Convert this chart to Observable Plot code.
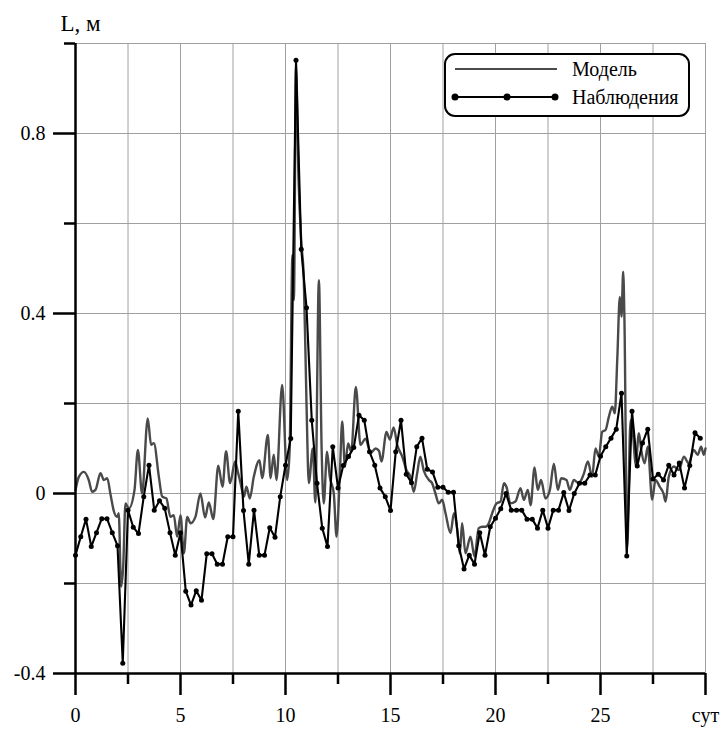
<!DOCTYPE html>
<html><head><meta charset="utf-8">
<script src="https://cdn.jsdelivr.net/npm/d3@7"></script>
<script src="https://cdn.jsdelivr.net/npm/@observablehq/plot@0.6"></script>
<style>
body{margin:0;background:#fff;}
#chart{width:725px;height:729px;}
#chart svg, #chart svg text { font-family: "Liberation Serif", "DejaVu Serif", serif !important; }
</style>
</head><body><div id="chart"></div>
<script>
// Model series (days, metres)
const modelX = [0.0,0.16,0.4,0.63,0.79,0.95,1.19,1.35,1.51,1.67,1.83,1.98,2.06,2.17,2.27,2.38,2.54,2.81,2.97,3.17,3.44,3.6,3.73,3.97,4.13,4.33,4.52,4.68,4.84,5.0,5.16,5.32,5.48,5.71,5.95,6.17,6.35,6.56,6.8,7.0,7.17,7.36,7.6,7.73,7.86,8.02,8.14,8.3,8.49,8.76,8.89,9.16,9.29,9.44,9.57,9.84,10.08,10.2,10.33,10.4,10.5,10.62,10.75,10.87,11.0,11.11,11.3,11.42,11.59,11.72,11.82,11.98,12.11,12.3,12.43,12.59,12.7,12.83,12.98,13.13,13.35,13.57,13.81,14.05,14.29,14.45,14.57,14.81,14.97,15.15,15.32,15.56,15.76,15.95,16.11,16.27,16.42,16.59,16.83,16.98,17.14,17.3,17.46,17.62,17.86,18.02,18.18,18.3,18.41,18.57,18.81,19.0,19.2,19.37,19.52,19.68,19.84,20.05,20.24,20.4,20.52,20.71,20.95,21.19,21.35,21.54,21.67,21.86,22.01,22.17,22.38,22.59,22.78,22.97,23.13,23.38,23.54,23.73,23.97,24.2,24.4,24.6,24.76,24.92,25.08,25.24,25.4,25.56,25.68,25.8,25.92,26.0,26.08,26.14,26.27,26.43,26.56,26.67,26.83,26.94,27.1,27.25,27.46,27.62,27.82,28.0,28.1,28.25,28.49,28.73,28.97,29.2,29.44,29.63,29.79,29.92,30.0];
const modelY = [0.008,0.037,0.048,0.03,0.004,0.008,0.045,0.03,0.034,-0.003,-0.04,-0.052,-0.044,-0.207,-0.163,-0.022,-0.033,0.008,0.097,0.0,0.167,0.108,0.112,0.037,-0.007,-0.011,-0.052,-0.048,-0.096,-0.048,-0.133,-0.052,-0.066,-0.052,0.0,-0.053,-0.02,-0.057,0.062,0.015,0.094,0.023,0.071,0.048,0.023,-0.007,0.015,-0.011,0.037,0.074,0.034,0.13,0.034,0.086,0.03,0.241,0.03,0.1,0.53,0.43,0.95,0.7,0.56,0.48,0.2,0.023,0.1,-0.02,0.474,0.1,-0.022,0.093,0.037,0.0,-0.096,0.045,0.16,0.06,0.111,0.093,0.237,0.108,0.122,0.09,0.1,0.095,0.071,0.137,0.12,0.147,0.108,0.082,0.052,0.037,0.004,0.045,0.082,0.05,0.03,0.023,0.0,-0.022,-0.014,-0.044,-0.088,-0.044,-0.081,-0.133,-0.066,-0.133,-0.096,-0.14,-0.077,-0.074,-0.074,-0.066,-0.044,-0.022,-0.018,0.023,0.015,-0.022,-0.018,0.012,-0.014,0.008,-0.026,0.058,0.008,0.03,-0.011,0.008,0.066,0.008,0.034,0.03,0.008,0.03,0.023,0.043,0.071,0.037,0.1,0.082,0.137,0.141,0.171,0.193,0.178,0.3,0.437,0.393,0.493,0.386,-0.12,0.163,0.126,0.063,0.134,0.097,0.067,0.104,-0.014,0.03,0.015,0.0,-0.018,0.037,0.06,0.052,0.082,0.067,0.097,0.086,0.104,0.086,0.1];

// Observations (every 6 hours)
const obsX = [0,0.25,0.5,0.75,1,1.25,1.5,1.75,2,2.25,2.5,2.75,3,3.25,3.5,3.75,4,4.25,4.5,4.75,5,5.25,5.5,5.75,6,6.25,6.5,6.75,7,7.25,7.5,7.75,8,8.25,8.5,8.75,9,9.25,9.5,9.75,10,10.25,10.5,10.75,11,11.25,11.5,11.75,12,12.25,12.5,12.75,13,13.25,13.5,13.75,14,14.25,14.5,14.75,15,15.25,15.5,15.75,16,16.25,16.5,16.75,17,17.25,17.5,17.75,18,18.25,18.5,18.75,19,19.25,19.5,19.75,20,20.25,20.5,20.75,21,21.25,21.5,21.75,22,22.25,22.5,22.75,23,23.25,23.5,23.75,24,24.25,24.5,24.75,25,25.25,25.5,25.75,26,26.25,26.5,26.75,27,27.25,27.5,27.75,28,28.25,28.5,28.75,29,29.25,29.5,29.75];
const obsY = [-0.137,-0.096,-0.057,-0.118,-0.087,-0.056,-0.056,-0.087,-0.116,-0.377,-0.037,-0.075,-0.089,-0.007,0.063,-0.037,-0.016,-0.033,-0.087,-0.137,-0.087,-0.217,-0.248,-0.216,-0.237,-0.134,-0.134,-0.157,-0.157,-0.096,-0.096,0.183,-0.038,-0.157,-0.037,-0.137,-0.137,-0.076,-0.097,-0.007,0.063,0.122,0.963,0.543,0.413,0.163,0.023,-0.077,-0.118,0.104,0.012,0.062,0.082,0.102,0.174,0.163,0.093,0.063,0.012,-0.007,-0.038,0.093,0.163,0.043,0.024,0.104,0.123,0.054,0.048,0.014,0.014,0.003,0.003,-0.116,-0.168,-0.137,-0.157,-0.087,-0.137,-0.074,-0.055,-0.034,0.0,-0.037,-0.037,-0.037,-0.057,-0.057,-0.077,-0.037,-0.077,-0.037,-0.037,0.002,-0.038,0.0,0.023,0.023,0.041,0.041,0.083,0.104,0.123,0.143,0.223,-0.139,0.183,0.061,0.112,0.143,0.032,0.043,0.030,0.063,0.041,0.068,0.012,0.062,0.135,0.123];

// Ticks
const xMajor = [0,5,10,15,20,25,30];
const xMajorLabels = ["0","5","10","15","20","25","сут"];
const xMinor = [2.5,7.5,12.5,17.5,22.5,27.5];
const yMajor = [-0.4,0,0.4,0.8];
const yMajorLabels = ["-0.4","0","0.4","0.8"];
const yMinor = [-0.2,0.2,0.6,1.0];
const xGrid = [2.5,5,7.5,10,12.5,15,17.5,20,22.5,25,27.5,30];
const yGrid = [-0.2,0,0.2,0.4,0.6,0.8,1.0];
const seriesNames = ["Модель","Наблюдения"];
const yTitle = "L, м";

const model = modelX.map((x,i)=>({x, y: modelY[i]}));
const obs = obsX.map((x,i)=>({x, y: obsY[i]}));
const xLab = new Map(xMajor.map((d,i)=>[d,xMajorLabels[i]]));
const yLab = new Map(yMajor.map((d,i)=>[d,yMajorLabels[i]]));

const FONT = "Liberation Serif, DejaVu Serif, serif";
const GRID = "#a0a0a0";
const MODEL = "#4a4a4a";

const plot = Plot.plot({
  width: 725, height: 729,
  marginLeft: 75, marginRight: 20, marginTop: 43, marginBottom: 56,
  style: {fontFamily: FONT, fontSize: "19px", background: "#fff", color: "#000"},
  x: {domain: [0,30], label: null},
  y: {domain: [-0.4,1.0], label: null},
  marks: [
    Plot.gridX(xGrid, {stroke: GRID, strokeOpacity: 1, strokeWidth: 1}),
    Plot.gridY(yGrid, {stroke: GRID, strokeOpacity: 1, strokeWidth: 1}),
    Plot.line(model, {x: "x", y: "y", stroke: MODEL, strokeWidth: 2.4, curve: "monotone-x"}),
    Plot.line(obs, {x: "x", y: "y", stroke: "#000", strokeWidth: 2.1}),
    Plot.dot(obs, {x: "x", y: "y", r: 2.5, fill: "#000", stroke: "none"}),
    Plot.ruleX([0], {stroke: "#000", strokeWidth: 2.5}),
    Plot.ruleY([-0.4], {stroke: "#000", strokeWidth: 2.5, x1: 0, x2: 30}),
    Plot.axisY(yMajor, {tickSize: 22, tickPadding: 8, strokeWidth: 2.5, tickFormat: d => yLab.get(d), label: null, fontSize: 20, fontFamily: FONT}),
    Plot.axisY(yMinor, {tickSize: 11, strokeWidth: 2.5, tickFormat: () => "", label: null}),
    Plot.axisX(xMajor, {tickSize: 22, tickPadding: 12, strokeWidth: 2.5, tickFormat: d => xLab.get(d), label: null, fontSize: 20, fontFamily: FONT}),
    Plot.axisX(xMinor, {tickSize: 11, strokeWidth: 2.5, tickFormat: () => "", label: null}),
    Plot.text([yTitle], {frameAnchor: "top-left", dx: -15, dy: -20, textAnchor: "start", lineAnchor: "middle", fontSize: 23, fontFamily: FONT})
  ]
});
document.getElementById("chart").appendChild(plot);

// Legend box
const svg = d3.select(plot);
const lg = svg.append("g").attr("font-size", 20).attr("font-family", FONT).attr("text-anchor", "start");
lg.append("rect").attr("x", 445).attr("y", 54).attr("width", 244).attr("height", 62)
  .attr("rx", 10).attr("fill", "#fff").attr("stroke", "#000").attr("stroke-width", 2);
lg.append("line").attr("x1", 455).attr("x2", 557).attr("y1", 69).attr("y2", 69)
  .attr("stroke", MODEL).attr("stroke-width", 2);
lg.append("line").attr("x1", 455).attr("x2", 555).attr("y1", 97).attr("y2", 97)
  .attr("stroke", "#000").attr("stroke-width", 2);
[455, 507, 555].forEach(cx => lg.append("circle").attr("cx", cx).attr("cy", 97).attr("r", 3.5).attr("fill", "#000"));
lg.append("text").attr("x", 572).attr("y", 69).attr("dy", "0.35em").text(seriesNames[0]);
lg.append("text").attr("x", 572).attr("y", 97).attr("dy", "0.35em").text(seriesNames[1]);
</script>
</body></html>
